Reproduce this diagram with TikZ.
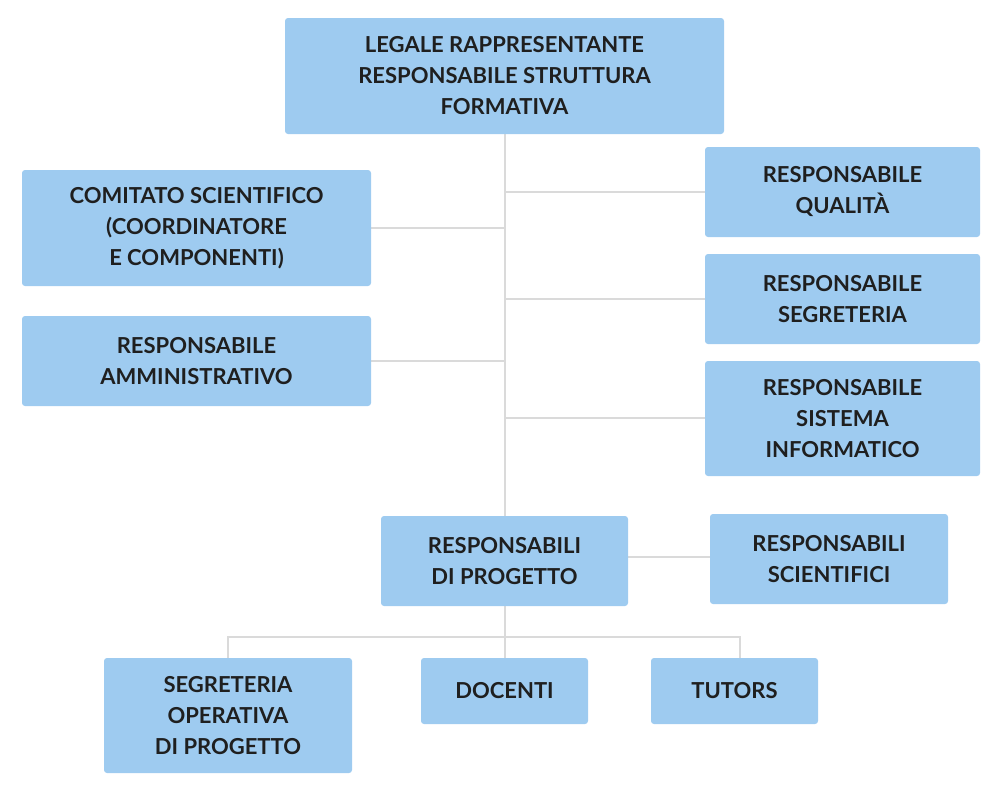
\documentclass[tikz,border=0pt]{standalone}
\usepackage{fontspec}
\setmainfont{Lato}[UprightFont=* Bold]
\begin{document}
\begin{tikzpicture}[x=1pt,y=-1pt,
  box/.style={fill=boxblue,rounded corners=3pt,align=center,inner sep=0pt,font=\fontsize{22}{31}\selectfont,text=black!88},
  ln/.style={draw=linegray,line width=2pt}]
\definecolor{boxblue}{HTML}{9ECBF0}
\definecolor{linegray}{HTML}{DADADA}
\useasboundingbox (0,0) rectangle (1000,793);
\newcommand\bx[6]{\node[box,minimum width=#4-#2,minimum height=#5-#3] (#1) at ({(#2+#4)/2},{(#3+#5)/2}) {#6};}
\begin{scope}[on background layer/.style={}]
\end{scope}
% lines first
\coordinate (s1) at (505,134);
\coordinate (s2) at (505,516);
\draw[ln] (s1) -- (s2);
\draw[ln] (505,192) -- (705,192);
\draw[ln] (505,228) -- (371,228);
\draw[ln] (505,299) -- (705,299);
\draw[ln] (505,361) -- (371,361);
\draw[ln] (505,418) -- (705,418);
\draw[ln] (628,557) -- (710,557);
\draw[ln] (505,606) -- (505,658);
\draw[ln] (228,658) -- (228,637) -- (740,637) -- (740,658);
\bx{top}{285}{18}{724}{134}{LEGALE RAPPRESENTANTE\\RESPONSABILE STRUTTURA\\FORMATIVA}
\bx{com}{22}{170}{371}{286}{COMITATO SCIENTIFICO\\(COORDINATORE\\E COMPONENTI)}
\bx{amm}{22}{316}{371}{406}{RESPONSABILE\\AMMINISTRATIVO}
\bx{qual}{705}{147}{980}{237}{RESPONSABILE\\QUALITÀ}
\bx{seg}{705}{254}{980}{344}{RESPONSABILE\\SEGRETERIA}
\bx{sis}{705}{361}{980}{476}{RESPONSABILE\\SISTEMA\\INFORMATICO}
\bx{prog}{381}{516}{628}{606}{RESPONSABILI\\DI PROGETTO}
\bx{sci}{710}{514}{948}{604}{RESPONSABILI\\SCIENTIFICI}
\bx{sop}{104}{658}{352}{773}{SEGRETERIA\\OPERATIVA\\DI PROGETTO}
\bx{doc}{421}{658}{588}{724}{DOCENTI}
\bx{tut}{651}{658}{818}{724}{TUTORS}
\end{tikzpicture}
\end{document}
